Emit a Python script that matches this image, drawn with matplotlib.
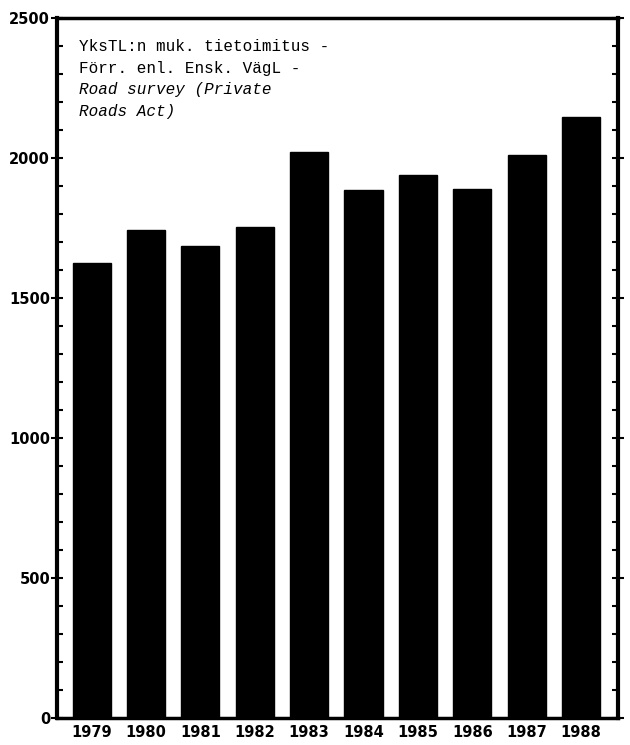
import matplotlib
matplotlib.use("Agg")
import matplotlib.pyplot as plt
from matplotlib.ticker import MultipleLocator

years = ["1979", "1980", "1981", "1982", "1983", "1984", "1985", "1986", "1987", "1988"]
values = [1625, 1741, 1687, 1753, 2020, 1887, 1939, 1890, 2009, 2145]
y_ticks = [0, 500, 1000, 1500, 2000, 2500]

fig = plt.figure(figsize=(6.3, 7.45), dpi=100)
ax = fig.add_axes([0.0905, 0.036, 0.8905, 0.940])

x = list(range(len(years)))
ax.bar(x, values, width=0.7, color="black", edgecolor="black")
ax.set_xlim(-0.635, 9.68)
ax.set_ylim(0, 2500)

lab_font = dict(family=["Liberation Sans Narrow", "DejaVu Sans"], weight="bold", size=10.5)
ax.set_xticks(x)
ax.set_xticklabels(years, **lab_font)
ax.set_yticks(y_ticks)
ax.set_yticklabels([str(v) for v in y_ticks], **lab_font)
ax.yaxis.set_minor_locator(MultipleLocator(100))
ax.tick_params(axis="x", length=0, pad=5)
ax.tick_params(axis="y", which="major", direction="inout", length=8, width=1.5, pad=1,
               right=True)
ax.tick_params(axis="y", which="minor", direction="in", length=4, width=1.5, right=True)

for side, lw in [("left", 3), ("right", 3), ("top", 2.5), ("bottom", 2.5)]:
    ax.spines[side].set_linewidth(lw)

mono = ["Liberation Mono", "DejaVu Sans Mono"]
tx = 0.04
ax.text(tx, 0.970, "YksTL:n muk. tietoimitus -", transform=ax.transAxes, family=mono,
        size=11.5, va="top")
ax.text(tx, 0.939, "Förr. enl. Ensk. VägL -", transform=ax.transAxes, family=mono,
        size=11.5, va="top")
ax.text(tx, 0.908, "Road survey (Private", transform=ax.transAxes, family=mono,
        size=11.5, va="top", style="italic")
ax.text(tx, 0.877, "Roads Act)", transform=ax.transAxes, family=mono,
        size=11.5, va="top", style="italic")

fig.savefig("out.png", dpi=100)
